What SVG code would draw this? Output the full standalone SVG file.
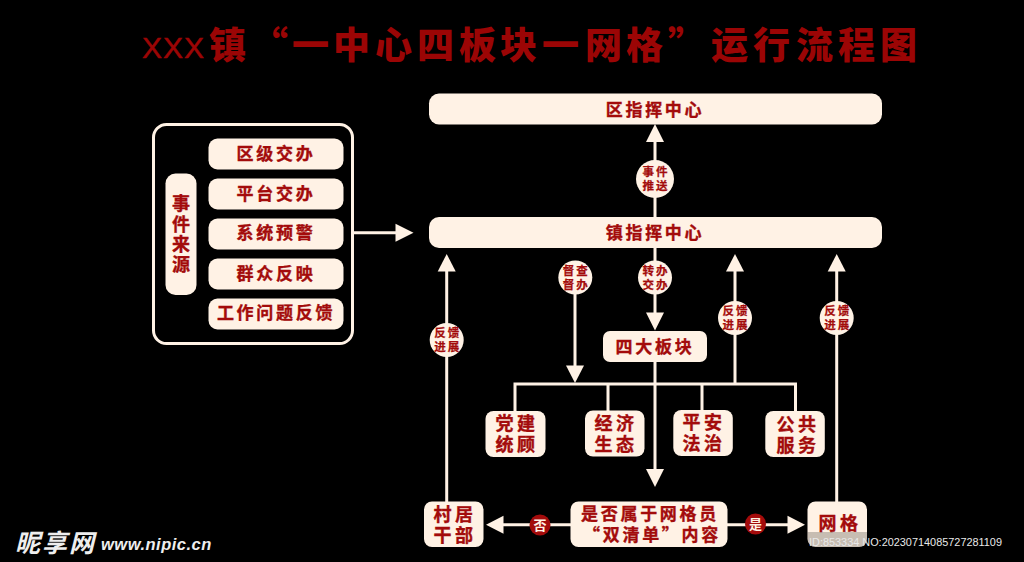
<svg xmlns="http://www.w3.org/2000/svg" width="1024" height="562" viewBox="0 0 1024 562">
<defs>
<style>
text{font-family:"Noto Sans CJK SC","Liberation Sans",sans-serif;font-weight:700;fill:#A30B0B;text-anchor:middle}
.box{fill:#FFF2E5}
.l17{font-size:17px;letter-spacing:2.7px;stroke:#A30B0B;stroke-width:.35px}
.l19{font-size:18px;letter-spacing:3.5px;stroke:#A30B0B;stroke-width:.35px}
.c{font-size:11.500px;letter-spacing:2px;stroke:#A30B0B;stroke-width:.25px}
.line{stroke:#FFF2E5;stroke-width:3;fill:none}
.head{fill:#FFF2E5}
.dot{fill:#A30B0B}
</style>
</defs>
<rect width="1024" height="562" fill="#000"/>
<g id="title">
<text y="58" x="142 163 184" style="font-family:'Liberation Sans',sans-serif;font-size:30px;font-weight:400;text-anchor:start;fill:#9B0505;stroke:#9B0505;stroke-width:.5px">XXX</text>
<text y="59" x="209 251 292 333 375 417 459 500 542 585 626 668 711 753 796 838 880" style="font-size:37px;font-weight:900;text-anchor:start;fill:#9B0505">镇“一中心四板块一网格”运行流程图</text>
</g>
<g id="connectors">
<path class="line" d="M354 232.700H397"/>
<path class="head" d="M413.500 232.700L395.500 223.700V241.700Z"/>
<path class="line" d="M655 217V140"/>
<path class="head" d="M655 124L646 142H664Z"/>
<path class="line" d="M655 247V314"/>
<path class="head" d="M655 330.500L646 312.500H664Z"/>
<path class="line" d="M575 277V367"/>
<path class="head" d="M575 383L566 365.500H584Z"/>
<path class="line" d="M735 383V270"/>
<path class="head" d="M735 254L726 271.500H744Z"/>
<path class="line" d="M836.700 502V270"/>
<path class="head" d="M836.700 254L827.700 271.500H845.700Z"/>
<path class="line" d="M446.700 502V270"/>
<path class="head" d="M446.700 254L437.700 271.500H455.700Z"/>
<path class="line" d="M515 411V384H795.500V411M608 384V411M702 384V411M655 362V471"/>
<path class="head" d="M655 487L646 469H664Z"/>
<path class="line" d="M571 524.700H502"/>
<path class="head" d="M486 524.700L503.500 515.700V533.700Z"/>
<path class="line" d="M727 524.700H789"/>
<path class="head" d="M805 524.700L787.500 515.700V533.700Z"/>
</g>
<g id="source-panel">
<rect x="153.500" y="124.500" width="199" height="219" rx="13" fill="#000" stroke="#FFF2E5" stroke-width="3"/>
</g>
<g id="source-title">
<rect class="box" x="165.500" y="173.500" width="31" height="121.500" rx="10"/>
<text style="font-size:18px;stroke:#A30B0B;stroke-width:.35px"><tspan x="181" y="209.500">事</tspan><tspan x="181" y="230.500">件</tspan><tspan x="181" y="250.500">来</tspan><tspan x="181" y="270.500">源</tspan></text>
</g>
<g id="src-1"><rect class="box" x="208.500" y="138.500" width="135" height="31" rx="9"/><text class="l17" x="276" y="160">区级交办</text></g>
<g id="src-2"><rect class="box" x="208.500" y="178.500" width="135" height="31" rx="9"/><text class="l17" x="276" y="200">平台交办</text></g>
<g id="src-3"><rect class="box" x="208.500" y="218.500" width="135" height="31" rx="9"/><text class="l17" x="276" y="239">系统预警</text></g>
<g id="src-4"><rect class="box" x="208.500" y="258.500" width="135" height="31" rx="9"/><text class="l17" x="276" y="279.500">群众反映</text></g>
<g id="src-5"><rect class="box" x="208.500" y="298.500" width="135" height="31" rx="9"/><text class="l17" x="276" y="319">工作问题反馈</text></g>
<g id="district"><rect class="box" x="429" y="93.500" width="453" height="31" rx="10"/><text class="l17" x="655" y="115.500">区指挥中心</text></g>
<g id="town"><rect class="box" x="429" y="217" width="453" height="31" rx="10"/><text class="l17" x="655" y="238.500">镇指挥中心</text></g>
<g id="four"><rect class="box" x="603" y="331" width="104" height="31" rx="7"/><text class="l17" x="655" y="353">四大板块</text></g>
<g id="b1"><rect class="box" x="485.500" y="411" width="60" height="46" rx="8"/><text class="l19"><tspan x="517" y="430">党建</tspan><tspan x="517" y="451">统顾</tspan></text></g>
<g id="b2"><rect class="box" x="585" y="410.500" width="59.500" height="46" rx="8"/><text class="l19"><tspan x="616" y="430">经济</tspan><tspan x="616" y="451">生态</tspan></text></g>
<g id="b3"><rect class="box" x="673.300" y="410" width="59.500" height="46" rx="8"/><text class="l19"><tspan x="704" y="429">平安</tspan><tspan x="704" y="450">法治</tspan></text></g>
<g id="b4"><rect class="box" x="765.300" y="411" width="59.500" height="46" rx="8"/><text class="l19"><tspan x="798" y="431">公共</tspan><tspan x="798" y="452">服务</tspan></text></g>
<g id="village"><rect class="box" x="424" y="501.500" width="59.500" height="45.500" rx="8"/><text class="l19"><tspan x="455" y="521">村居</tspan><tspan x="455" y="542">干部</tspan></text></g>
<g id="decide"><rect class="box" x="570.500" y="501.500" width="157" height="45.500" rx="8"/><text class="l17"><tspan x="650" y="520">是否属于网格员</tspan><tspan x="652" y="541">“双清单”内容</tspan></text></g>
<g id="grid"><rect class="box" x="807.500" y="501.500" width="59.500" height="45.500" rx="8"/><text class="l19" x="840" y="530">网格</text></g>
<g id="c1"><circle class="box" cx="655" cy="179" r="19"/><text class="c"><tspan x="656" y="176">事件</tspan><tspan x="656" y="190">推送</tspan></text></g>
<g id="c2"><circle class="box" cx="655" cy="277.500" r="17"/><text class="c"><tspan x="656" y="275">转办</tspan><tspan x="656" y="289">交办</tspan></text></g>
<g id="c3"><circle class="box" cx="575.300" cy="277.500" r="17"/><text class="c"><tspan x="576.300" y="275">督查</tspan><tspan x="576.300" y="289">督办</tspan></text></g>
<g id="c4"><circle class="box" cx="735" cy="318" r="17"/><text class="c"><tspan x="736" y="315">反馈</tspan><tspan x="736" y="329">进展</tspan></text></g>
<g id="c5"><circle class="box" cx="836.700" cy="318" r="17"/><text class="c"><tspan x="837.700" y="315">反馈</tspan><tspan x="837.700" y="329">进展</tspan></text></g>
<g id="c6"><circle class="box" cx="446.700" cy="340" r="17"/><text class="c"><tspan x="447.700" y="337">反馈</tspan><tspan x="447.700" y="351">进展</tspan></text></g>
<g id="no"><circle class="dot" cx="540" cy="525" r="10.500"/><text x="540" y="530" style="font-size:13px;fill:#FFF2E5">否</text></g>
<g id="yes"><circle class="dot" cx="755.500" cy="524" r="10.500"/><text x="755.500" y="529" style="font-size:13px;fill:#FFF2E5">是</text></g>
<g id="watermark">
<rect x="807.500" y="532" width="59.500" height="15" fill="#000" fill-opacity=".22"/>
<text x="809" y="546" style="font-family:'Liberation Sans',sans-serif;font-size:10.900px;font-weight:400;text-anchor:start;fill:#E8E8E8">ID:853334 NO:20230714085727281109</text>
<text x="15" y="552" style="font-size:25px;font-style:italic;text-anchor:start;fill:#EEE;letter-spacing:2px">昵享网</text>
<text x="101" y="550" style="font-family:'Liberation Sans',sans-serif;font-size:16.500px;font-style:italic;text-anchor:start;fill:#EEE;letter-spacing:.5px">www.nipic.cn</text>
</g>
</svg>
